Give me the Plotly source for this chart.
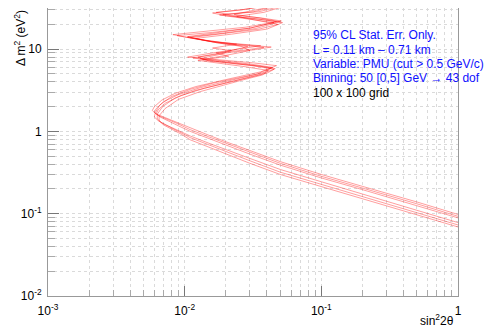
import plotly.graph_objects as go

# sin^2(2theta) / delta m^2 points for each 95% CL contour
c1_s2t = [1.0, 0.5, 0.2, 0.1, 0.05, 0.03, 0.02, 0.015, 0.011, 0.0085, 0.007, 0.0061, 0.0058, 0.006, 0.0068, 0.0085,
          0.012, 0.018, 0.026, 0.036, 0.047, 0.032, 0.02, 0.0105, 0.016, 0.026, 0.036, 0.019, 0.0115, 0.0082,
          0.015, 0.028, 0.051, 0.036, 0.022, 0.017, 0.028, 0.042]
c1_dm2 = [0.098, 0.139, 0.215, 0.30, 0.43, 0.58, 0.75, 0.9, 1.1, 1.32, 1.5, 1.65, 1.8, 2.0, 2.4, 2.9,
          3.5, 4.1, 4.7, 5.3, 6.3, 6.8, 7.3, 8.0, 9.0, 10.2, 11.0, 12.0, 13.5, 15.0,
          16.5, 18.5, 22.0, 24.0, 26.0, 28.0, 30.5, 34.0]

c2_s2t = [1.0, 0.5, 0.2, 0.1, 0.05, 0.03, 0.02, 0.015, 0.011, 0.0088, 0.0072, 0.0063, 0.006, 0.0062, 0.007, 0.009,
          0.013, 0.02, 0.028, 0.038, 0.044, 0.03, 0.019, 0.013, 0.018, 0.022, 0.016, 0.024, 0.014, 0.0105, 0.017,
          0.03, 0.045, 0.027, 0.018, 0.032, 0.045]
c2_dm2 = [0.093, 0.132, 0.205, 0.285, 0.41, 0.555, 0.72, 0.86, 1.05, 1.25, 1.43, 1.58, 1.72, 1.9, 2.3, 2.8,
          3.4, 4.0, 4.6, 5.2, 6.0, 6.6, 7.2, 7.7, 8.6, 9.6, 10.3, 11.5, 12.8, 14.2, 15.8,
          18.0, 21.0, 23.5, 26.0, 28.5, 33.0]

c3_s2t = [1.0, 0.5, 0.2, 0.1, 0.05, 0.03, 0.02, 0.015, 0.011, 0.009, 0.0075, 0.0066, 0.0062, 0.0064, 0.0072, 0.0095,
          0.014, 0.021, 0.03, 0.04, 0.046, 0.036, 0.024, 0.015, 0.0125, 0.02, 0.032, 0.043, 0.027, 0.016, 0.011, 0.02,
          0.035, 0.048, 0.034, 0.024, 0.038, 0.05]
c3_dm2 = [0.089, 0.126, 0.196, 0.272, 0.39, 0.53, 0.69, 0.82, 1.0, 1.17, 1.35, 1.5, 1.65, 1.83, 2.2, 2.75,
          3.35, 3.95, 4.55, 5.1, 5.8, 6.2, 6.6, 7.2, 8.0, 9.0, 9.8, 10.6, 11.3, 12.3, 13.8, 15.5,
          17.5, 20.0, 22.5, 25.0, 28.0, 32.0]

c4_s2t = [1.0, 0.5, 0.2, 0.1, 0.05, 0.03, 0.02, 0.015, 0.011, 0.0088, 0.0073, 0.0064, 0.006, 0.0061, 0.0066, 0.008,
          0.011, 0.016, 0.024, 0.034, 0.043, 0.029, 0.018, 0.0115, 0.017, 0.025, 0.029, 0.018, 0.012, 0.0088,
          0.016, 0.03, 0.047, 0.033, 0.02, 0.016, 0.026, 0.038]
c4_dm2 = [0.078, 0.11, 0.172, 0.24, 0.345, 0.47, 0.6, 0.72, 0.88, 1.03, 1.2, 1.35, 1.5, 1.7, 2.1, 2.65,
          3.25, 3.85, 4.45, 5.0, 5.9, 6.5, 7.1, 7.8, 8.8, 10.0, 10.7, 11.8, 13.2, 14.6,
          16.0, 18.0, 21.5, 23.5, 25.5, 27.5, 30.0, 33.5]

c5_s2t = [1.0, 0.5, 0.2, 0.1, 0.05, 0.03, 0.02, 0.015, 0.011, 0.0092, 0.0077, 0.0068, 0.0063, 0.0063, 0.0069, 0.0085,
          0.012, 0.018, 0.026, 0.036, 0.045, 0.031, 0.02, 0.0135, 0.021, 0.017, 0.028, 0.038, 0.023, 0.015, 0.0105,
          0.019, 0.033, 0.05, 0.035, 0.023, 0.03, 0.044]
c5_dm2 = [0.073, 0.103, 0.162, 0.225, 0.32, 0.44, 0.57, 0.68, 0.84, 0.98, 1.13, 1.27, 1.42, 1.62, 2.0, 2.55,
          3.15, 3.75, 4.35, 4.95, 5.7, 6.3, 6.9, 7.4, 8.2, 9.0, 9.8, 10.5, 11.4, 12.5, 14.0,
          15.6, 17.8, 21.5, 24.0, 26.5, 29.0, 33.0]

c6_s2t = [1.0, 0.5, 0.2, 0.1, 0.05, 0.03, 0.02, 0.015, 0.011, 0.0095, 0.008, 0.007, 0.0065, 0.0065, 0.0072, 0.009,
          0.013, 0.019, 0.027, 0.037, 0.041, 0.028, 0.018, 0.0125, 0.02, 0.03, 0.026, 0.017, 0.012, 0.022,
          0.04, 0.052, 0.04, 0.025, 0.019, 0.035, 0.048]
c6_dm2 = [0.069, 0.097, 0.152, 0.212, 0.3, 0.41, 0.535, 0.64, 0.79, 0.92, 1.06, 1.2, 1.35, 1.55, 1.9, 2.45,
          3.05, 3.65, 4.25, 4.85, 5.5, 6.1, 6.7, 7.3, 8.4, 9.6, 10.8, 12.0, 13.5, 15.2,
          17.5, 21.0, 22.5, 24.5, 26.5, 28.5, 32.5]

x_major = [1e-3, 1e-2, 1e-1, 1]
x_labels = ['10<sup>-3</sup>', '10<sup>-2</sup>', '10<sup>-1</sup>', '1']
y_major = [1e-2, 1e-1, 1, 10]
y_labels = ['10<sup>-2</sup>', '10<sup>-1</sup>', '1', '10']

info_lines = ['95% CL Stat. Err. Only.',
              'L = 0.11 km \u2013 0.71 km',
              'Variable: PMU (cut > 0.5 GeV/c)',
              'Binning: 50 [0,5] GeV \u2192 43 dof',
              '100 x 100 grid']
info_colors = ['#1010ff', '#1010ff', '#1010ff', '#1010ff', 'black']

contours = [(c1_s2t, c1_dm2), (c2_s2t, c2_dm2), (c3_s2t, c3_dm2),
            (c4_s2t, c4_dm2), (c5_s2t, c5_dm2), (c6_s2t, c6_dm2)]

x_minor = [m * 10 ** e for e in range(-3, 0) for m in range(2, 10)]
y_minor = [m * 10 ** e for e in range(-2, 2) for m in range(2, 10)]

fig = go.Figure()
for xs, ys in contours:
    fig.add_trace(go.Scatter(x=xs, y=ys, mode='lines', showlegend=False,
                             line=dict(color='rgba(255,0,0,0.55)', width=0.7)))

grid = dict(showgrid=True, gridcolor='#dadada', gridwidth=1, griddash='dot')
fig.update_xaxes(type='log', range=[-3, 0], tickmode='array', tickvals=x_major, ticktext=x_labels,
                 ticks='inside', ticklen=10, tickcolor='#777', showline=True, linecolor='#999',
                 mirror=True, zeroline=False, ticklabelstandoff=4,
                 minor=dict(tickmode='array', tickvals=x_minor, ticks='inside', ticklen=6,
                            tickcolor='#aaa', **grid), **grid)
fig.update_yaxes(type='log', range=[-2, 1.5], tickmode='array', tickvals=y_major, ticktext=y_labels,
                 ticks='inside', ticklen=11, tickcolor='#777', showline=True, linecolor='#999',
                 mirror=True, zeroline=False, ticklabelstandoff=3,
                 minor=dict(tickmode='array', tickvals=y_minor, ticks='inside', ticklen=7,
                            tickcolor='#aaa', **grid), **grid)

for i, (txt, col) in enumerate(zip(info_lines, info_colors)):
    fig.add_annotation(x=0.6415, y=1 - (27 + 14.5 * i) / 288, xref='paper', yref='paper',
                       text=txt, showarrow=False, xanchor='left', yanchor='middle',
                       font=dict(color=col, size=12))

fig.add_annotation(x=0.995, y=-0.05, xref='paper', yref='paper', text='sin<sup>2</sup>2\u03b8',
                   showarrow=False, xanchor='right', yanchor='top', font=dict(size=12))
fig.add_annotation(x=-0.068, y=1.0, xref='paper', yref='paper', text='\u0394 m<sup>2</sup> (eV<sup>2</sup>)',
                   showarrow=False, textangle=-90, xanchor='center', yanchor='top', font=dict(size=12))

# the page puts the plot 8 px in from the top-left corner, so the figure is 8 px smaller
fig.update_layout(
    width=489, height=320,
    margin=dict(l=40, r=39, t=0, b=32),
    plot_bgcolor='white', paper_bgcolor='white',
    font=dict(family='Liberation Sans, Arial, sans-serif', size=12, color='black'),
)

fig.write_html("out.html")
